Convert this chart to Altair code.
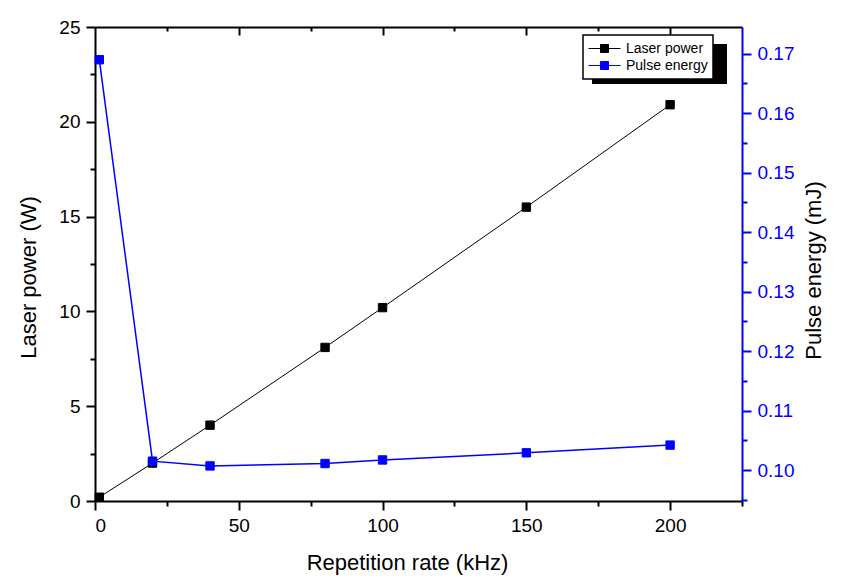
import altair as alt
import pandas as pd

# ---- data ----
rate = [1.5, 20, 40, 80, 100, 150, 200]
laser_power = [0.2, 2.0, 4.0, 8.1, 10.2, 15.5, 20.9]
pulse_energy = [0.1690, 0.1015, 0.1007, 0.1011, 0.1017, 0.1029, 0.1042]
series = ["Laser power", "Pulse energy"]

x_major = [0, 50, 100, 150, 200]
x_minor = [25, 75, 125, 175, 225]
yl_major = [0, 5, 10, 15, 20, 25]
yl_minor = [2.5, 7.5, 12.5, 17.5, 22.5]
yr_major = [0.10, 0.11, 0.12, 0.13, 0.14, 0.15, 0.16, 0.17]
yr_minor = [0.095, 0.105, 0.115, 0.125, 0.135, 0.145, 0.155, 0.165, 0.175]

df_l = pd.DataFrame({"rate": rate, "power": laser_power, "series": series[0]})
df_e = pd.DataFrame({"rate": rate, "energy": pulse_energy, "series": series[1]})

FONT = "Liberation Sans"
W, H = 647, 474

xs = alt.Scale(domain=[0, 225], nice=False, zero=False)
yls = alt.Scale(domain=[0, 25], nice=False)
yrs = alt.Scale(domain=[0.0948, 0.1745], nice=False, zero=False)
cscale = alt.Scale(domain=series, range=["black", "blue"])

sym_path = "M-1,0H-0.25M0.25,0H1M-0.25,-0.25H0.25V0.25H-0.25Z"
legend = alt.Legend(
    title=None, orient="none", legendX=488, legendY=8,
    fillColor="white", padding=5, symbolType=sym_path, symbolSize=1024,
    symbolStrokeWidth=1, labelFont=FONT, labelFontSize=14, labelOffset=5,
)
fill_enc = alt.Fill("series:N", scale=cscale, legend=legend)
stroke_enc = alt.Stroke("series:N", scale=cscale, legend=legend)

x_main = alt.Axis(orient="bottom", values=x_major, tickSize=9, labelPadding=6,
                  title="Repetition rate (kHz)", titlePadding=17, titleX=312, domain=True)
y_left = alt.Axis(orient="left", values=yl_major, tickSize=9, labelPadding=6,
                  title="Laser power (W)", titlePadding=18, titleY=250, domain=True)
y_right = alt.Axis(orient="right", values=yr_major, format=".2f", tickSize=9, labelPadding=6,
                   title="Pulse energy (mJ)", titleAngle=270, titlePadding=32, titleY=243,
                   domainColor="blue", tickColor="blue", labelColor="blue", titleColor="black")

laser_line = alt.Chart(df_l).mark_line(color="black", strokeWidth=1).encode(
    x=alt.X("rate:Q", scale=xs, axis=x_main),
    y=alt.Y("power:Q", scale=yls, axis=y_left),
)
laser_pts = alt.Chart(df_l).mark_point(shape="square", filled=True, size=70, opacity=1,
                                       strokeWidth=1).encode(
    x=alt.X("rate:Q", scale=xs, axis=None),
    y=alt.Y("power:Q", scale=yls, axis=None),
    fill=fill_enc, stroke=stroke_enc,
)
energy_line = alt.Chart(df_e).mark_line(color="blue", strokeWidth=1.5).encode(
    x=alt.X("rate:Q", scale=xs, axis=None),
    y=alt.Y("energy:Q", scale=yrs, axis=y_right),
)
energy_pts = alt.Chart(df_e).mark_point(shape="square", filled=True, size=70, opacity=1,
                                        strokeWidth=1).encode(
    x=alt.X("rate:Q", scale=xs, axis=None),
    y=alt.Y("energy:Q", scale=yrs, axis=None),
    fill=fill_enc, stroke=stroke_enc,
)

# minor ticks bottom + left
minor_a = alt.Chart(df_l).mark_point(opacity=0).encode(
    x=alt.X("rate:Q", scale=xs, axis=alt.Axis(orient="bottom", values=x_minor, tickSize=5,
                                               labels=False, domain=False, title=None)),
    y=alt.Y("power:Q", scale=yls, axis=alt.Axis(orient="left", values=yl_minor, tickSize=5,
                                                 labels=False, domain=False, title=None)),
)
# top frame with inward major ticks + right minor ticks
minor_b = alt.Chart(df_e).mark_point(opacity=0).encode(
    x=alt.X("rate:Q", scale=xs, axis=alt.Axis(orient="bottom", values=x_major[1:], tickSize=8,
                                               labels=False, domain=True, offset=-H, title=None)),
    y=alt.Y("energy:Q", scale=yrs, axis=alt.Axis(orient="right", values=yr_minor, tickSize=5,
                                                  labels=False, domain=False, title=None,
                                                  tickColor="blue")),
)
# top inward minor ticks
minor_c = alt.Chart(df_l).mark_point(opacity=0).encode(
    x=alt.X("rate:Q", scale=xs, axis=alt.Axis(orient="bottom", values=x_minor[:-1], tickSize=4,
                                               labels=False, domain=False, offset=-H, title=None)),
    y=alt.Y("power:Q", scale=yls, axis=None),
)

shadow = alt.Chart(df_l).mark_rect(color="black").encode(
    x=alt.value(497), x2=alt.value(632), y=alt.value(17), y2=alt.value(57)
)

chart = alt.layer(
    shadow, minor_a, minor_b, minor_c, laser_line, energy_line, laser_pts, energy_pts
).resolve_scale(
    y="independent"
).resolve_axis(
    x="independent", y="independent"
).properties(
    width=W, height=H,
    padding={"left": 87, "top": 19, "right": 86, "bottom": 76},
    autosize=alt.AutoSizeParams(type="none"),
).configure_view(
    stroke=None
).configure_axis(
    grid=False, labelFont=FONT, titleFont=FONT, labelFontSize=19, titleFontSize=22,
    titleFontWeight="normal", labelColor="black", titleColor="black",
    domainColor="black", tickColor="black", domainWidth=2, tickWidth=2,
).configure_legend(
    strokeColor="black", strokeWidth=1.5, clipHeight=17, rowPadding=0,
)

chart.save("out.html", embed_options={"renderer": "svg", "actions": False})
